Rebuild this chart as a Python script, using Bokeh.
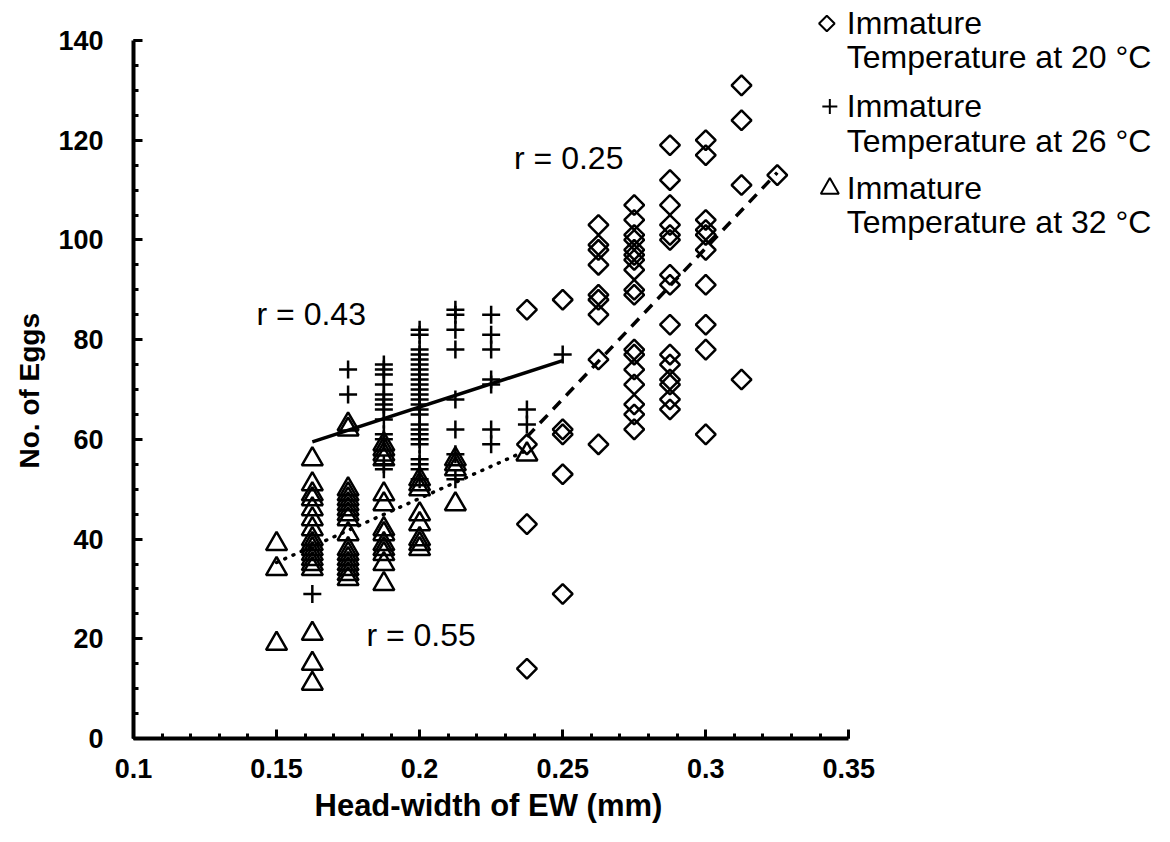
import numpy as np
from bokeh.plotting import figure
from bokeh.models import Range1d, FixedTicker, Title
from bokeh.core.properties import value
from bokeh.embed import file_html
from bokeh.resources import INLINE

# ---- data: head-width of EW (mm) columns and egg counts in each column ----
t20_hw = [0.2375, 0.25, 0.2625, 0.275, 0.2875, 0.3, 0.3125, 0.325]
t20_eggs = [
    [86, 59, 43, 14],
    [88, 62, 61, 53, 29],
    [103, 99, 98, 95, 89, 88, 85, 76, 59],
    [107, 104, 101, 100, 98, 97, 96, 94, 90, 89, 78, 77, 74, 71, 67, 65, 62],
    [119, 112, 107, 103, 101, 100, 93, 91, 83, 77, 75, 72, 71, 68, 66],
    [120, 117, 104, 102, 101, 98, 91, 83, 78, 61],
    [131, 124, 111, 72],
    [113],
]

t26_hw = [0.1625, 0.175, 0.1875, 0.2, 0.2125, 0.225, 0.2375, 0.25]
t26_eggs = [
    [29],
    [74, 69],
    [75, 74, 73, 71, 69, 68, 67, 66, 64, 61, 60, 55, 54],
    [82, 81, 78, 77, 76, 75, 74, 73, 72, 71, 70, 69, 68, 67, 66, 65,
     63, 62, 61, 60, 59, 56, 55, 54, 52],
    [86, 85, 82, 78, 68, 62, 57, 52],
    [85, 81, 78, 72, 71, 62, 59],
    [66, 63],
    [77],
]

t32_hw = [0.15, 0.1625, 0.175, 0.1875, 0.2, 0.2125, 0.2375]
t32_eggs = [
    [39, 34, 19],
    [56, 51, 49, 48, 46, 44, 42, 40, 39, 38, 37, 36, 35, 34, 21, 15, 11],
    [63, 62, 50, 49, 48, 47, 46, 45, 44, 41, 38, 37, 36, 35, 34, 33, 32],
    [59, 58, 57, 56, 49, 47, 42, 41, 39, 38, 37, 35, 31],
    [52, 51, 50, 45, 43, 40, 39, 38],
    [56, 55, 54, 47],
    [57],
]

# fitted trend lines (end points) and their correlation labels
trend20_hw, trend20_eggs = [0.2375, 0.325], [60.5, 113.5]
trend26_hw, trend26_eggs = [0.1625, 0.25], [59.5, 75.8]
trend32_hw, trend32_eggs = [0.15, 0.2375], [35.3, 57.8]

r_labels = ["r = 0.25", "r = 0.43", "r = 0.55"]
r_hw = [0.233, 0.143, 0.1814]
r_eggs = [116.5, 85.2, 20.7]

x_ticks = [0.1, 0.15, 0.2, 0.25, 0.3, 0.35]
x_tick_labels = ["0.1", "0.15", "0.2", "0.25", "0.3", "0.35"]
y_ticks = [0, 20, 40, 60, 80, 100, 120, 140]

legend_names = ["Immature", "Immature", "Immature"]
legend_temps = ["Temperature at 20 °C", "Temperature at 26 °C", "Temperature at 32 °C"]


def expand(cols, groups):
    xs, ys = [], []
    for c, g in zip(cols, groups):
        xs.extend([c] * len(g))
        ys.extend(g)
    return xs, ys


FONT = "Liberation Sans"

# canvas geometry: axes span x 0.1-0.35 over 716 px and y 0-140 over 698 px;
# the frame is widened to the right and top so the legend can sit there.
W, H = 1170, 842
LEFT, BOTTOM = 132, 104
AX_W, AX_H = 716, 698
x_per_px = 0.25 / AX_W
y_per_px = 140 / AX_H
x_end = 0.1 + (W - LEFT) * x_per_px
y_end = (H - BOTTOM) * y_per_px


def lx(px):
    return 0.1 + (px - LEFT) * x_per_px


def ly(py):
    return (H - BOTTOM - py) * y_per_px


p = figure(width=W, height=H,
           x_range=Range1d(0.1, x_end), y_range=Range1d(0, y_end),
           output_backend="svg", toolbar_location=None,
           min_border_left=LEFT, min_border_right=0,
           min_border_top=0, min_border_bottom=BOTTOM)
p.grid.visible = False
p.outline_line_color = None
p.background_fill_color = "white"
p.border_fill_color = "white"

# markers
x20, y20 = expand(t20_hw, t20_eggs)
x26, y26 = expand(t26_hw, t26_eggs)
x32, y32 = expand(t32_hw, t32_eggs)

p.scatter(x20, y20, marker="square", angle=np.pi / 4, size=14,
          fill_alpha=0, line_color="black", line_width=2.5)
p.scatter(x26, y26, marker="cross", size=18,
          line_color="black", line_width=2.5)
p.scatter(x32, y32, marker="triangle", size=21,
          fill_alpha=0, line_color="black", line_width=2.5)

# trend lines
p.line(trend20_hw, trend20_eggs, line_color="black", line_width=3.5,
       line_dash="11 8")
p.line(trend26_hw, trend26_eggs, line_color="black", line_width=3.5)
p.line(trend32_hw, trend32_eggs, line_color="black", line_width=3.5,
       line_dash="1 8", line_cap="round")

p.text(r_hw, r_eggs, text=r_labels, text_font=value(FONT),
       text_font_size="32px", text_align="left", text_baseline="middle",
       text_color="black")

# axes
for ax in (p.xaxis[0], p.yaxis[0]):
    ax.axis_line_width = 4
    ax.axis_line_color = "black"
    ax.major_tick_in = 9
    ax.major_tick_out = 0
    ax.minor_tick_in = 5
    ax.minor_tick_out = 0
    ax.major_tick_line_width = 3
    ax.minor_tick_line_width = 3
    ax.major_tick_line_color = "black"
    ax.minor_tick_line_color = "black"
    ax.major_label_text_font = FONT
    ax.major_label_text_font_style = "bold"
    ax.major_label_text_font_size = "27px"
    ax.major_label_text_color = "black"

p.xaxis.bounds = (0.1, 0.35)
p.xaxis.ticker = FixedTicker(ticks=x_ticks,
                             minor_ticks=list(np.round(np.arange(0.1, 0.3501, 0.01), 3)))
p.xaxis.major_label_overrides = dict(zip(x_ticks, x_tick_labels))
p.xaxis.major_label_standoff = 20

p.yaxis.bounds = (0, 140)
p.yaxis.ticker = FixedTicker(ticks=y_ticks, minor_ticks=list(range(0, 141, 5)))
p.yaxis.major_label_standoff = 30

# axis titles, placed along the axis spans
p.add_layout(Title(text="Head-width of EW (mm)", align="left", offset=181,
                   text_font=FONT, text_font_size="31px", text_font_style="bold",
                   text_color="black", standoff=10), "below")
p.add_layout(Title(text="No. of Eggs", align="left", offset=270,
                   text_font=FONT, text_font_size="28px", text_font_style="bold",
                   text_color="black", standoff=22), "left")

# legend beside the axes
key_x = [lx(826), lx(829), lx(829)]
key_y = [ly(23), ly(106), ly(188)]
p.scatter(key_x[:1], key_y[:1], marker="square", angle=np.pi / 4, size=11,
          fill_alpha=0, line_color="black", line_width=2)
p.scatter(key_x[1:2], key_y[1:2], marker="cross", size=15,
          line_color="black", line_width=2)
p.scatter(key_x[2:], key_y[2:], marker="triangle", size=18,
          fill_alpha=0, line_color="black", line_width=2)

name_y = [ly(22), ly(105), ly(187)]
temp_y = [ly(56), ly(140), ly(221)]
p.text([lx(846)] * 3, name_y, text=legend_names, text_font=value(FONT),
       text_font_size="32px", text_align="left", text_baseline="middle",
       text_color="black")
p.text([lx(846)] * 3, temp_y, text=legend_temps, text_font=value(FONT),
       text_font_size="32px", text_align="left", text_baseline="middle",
       text_color="black")

open("out.html", "w").write(file_html(p, INLINE))
